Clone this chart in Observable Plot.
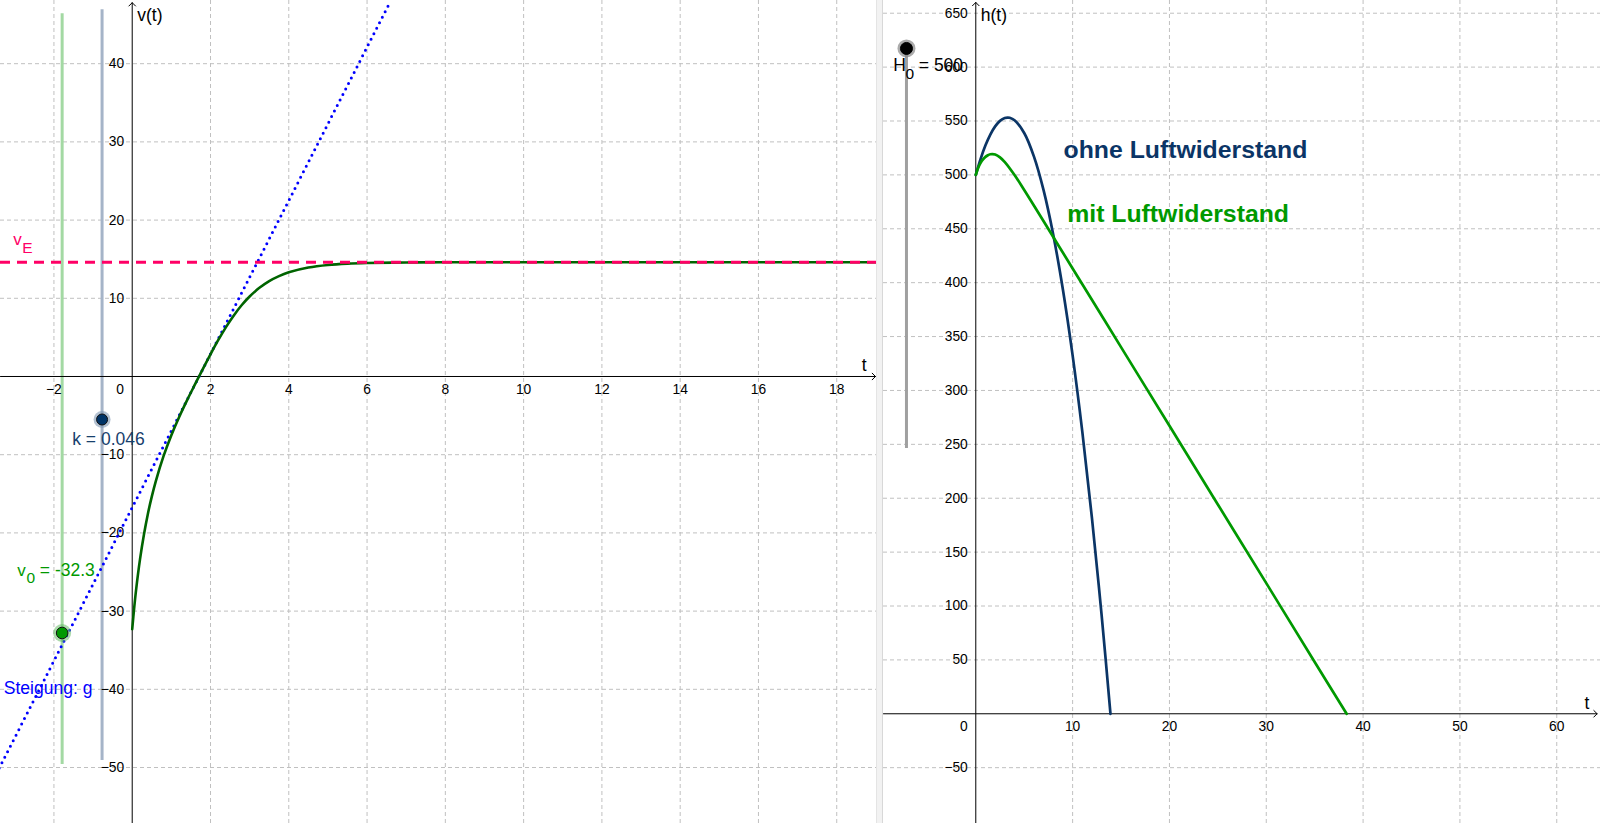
<!DOCTYPE html>
<html><head><meta charset="utf-8">
<script src="https://cdn.jsdelivr.net/npm/d3@7"></script>
<script src="https://cdn.jsdelivr.net/npm/@observablehq/plot@0.6"></script>
<style>
html,body{margin:0;padding:0;background:#fff;overflow:hidden;}
#root{position:relative;width:1600px;height:823px;font-family:"Liberation Sans",Arial,sans-serif;}
#left{position:absolute;left:0;top:0;}
#right{position:absolute;left:883px;top:0;}
#divider{position:absolute;left:876px;top:0;width:5px;height:823px;background:#f2f2f2;border-left:1px solid #e4e4e4;border-right:1px solid #d8d8d8;}
</style></head><body>
<div id="root"><div id="left"></div><div id="divider"></div><div id="right"></div></div>
<script>
// ---------- data: left panel v(t) ----------
const leftTDomain = [-3.365, 19.016];
const leftVDomain = [-57.16, 48.08];
const leftGridT = [-2, 2, 4, 6, 8, 10, 12, 14, 16, 18];
const leftGridV = [-50, -40, -30, -20, -10, 10, 20, 30, 40];
const leftTickT = [-2, 2, 4, 6, 8, 10, 12, 14, 16, 18];
const leftTickV = [-50, -40, -30, -20, -10, 10, 20, 30, 40];
const leftAxisT = [-3.365, 18.99];
const leftAxisV = [-57.16, 47.8];

const tV = [0, 0.05, 0.1, 0.2, 0.3, 0.4, 0.5, 0.6, 0.8, 1.0, 1.2, 1.4, 1.6, 1.7065, 1.8, 2.0, 2.2, 2.4, 2.6, 2.8, 3.0, 3.25, 3.5, 3.75, 4.0, 4.5, 5.0, 5.5, 6.0, 7.0, 8.0, 10, 12, 14, 16, 18, 19.1];
const vV = [-32.3, -29.62, -27.25, -23.36, -20.21, -17.57, -15.36, -13.43, -10.19, -7.50, -5.17, -3.05, -1.05, 0, 0.92, 2.84, 4.67, 6.35, 7.84, 9.14, 10.23, 11.34, 12.20, 12.84, 13.32, 13.93, 14.26, 14.43, 14.51, 14.58, 14.60, 14.60, 14.60, 14.60, 14.60, 14.60, 14.60];
const vE = 14.6;
const tangentT = [-3.4, 6.6];
const tangentV = [-50.1, 48.0];

// sliders (left): v0 and k
const v0 = -32.3;
const k = 0.046;
const sliderV0 = {t: -1.79, lo: -49.6, hi: 46.4, value: -32.8};
const sliderK = {t: -0.77, lo: -49.1, hi: 46.9, value: -5.5};

// ---------- data: right panel h(t) ----------
const rightTDomain = [-9.532, 64.52];
const rightHDomain = [-101.8, 661.8];
const rightGridT = [10, 20, 30, 40, 50, 60];
const rightGridH = [-50, 50, 100, 150, 200, 250, 300, 350, 400, 450, 500, 550, 600, 650];
const rightTickT = [10, 20, 30, 40, 50, 60];
const rightTickH = [-50, 50, 100, 150, 200, 250, 300, 350, 400, 450, 500, 550, 600, 650];
const rightAxisT = [-9.532, 64.17];
const rightAxisH = [-101.8, 660];

const tOhne = [0, 0.5, 1, 1.5, 2, 2.5, 3, 3.29, 3.5, 4, 5, 6, 7, 8, 9, 10, 11, 12, 13, 13.91];
const hOhne = [500, 514.9, 527.4, 537.4, 545.0, 550.1, 552.8, 553.2, 553.0, 550.7, 538.9, 517.2, 485.8, 444.5, 393.4, 332.5, 261.8, 181.3, 91.0, 0];
const tMit = [0, 0.25, 0.5, 0.75, 1.0, 1.25, 1.5, 1.71, 2.0, 2.5, 3.0, 4.0, 5.0, 6.0, 8.0, 10, 15, 20, 25, 30, 35, 38.3];
const hMit = [500, 506.6, 511.2, 514.4, 516.7, 518.2, 519.1, 519.3, 518.9, 516.3, 511.9, 499.9, 486.0, 471.6, 442.4, 413.2, 340.2, 267.2, 194.2, 121.2, 48.1, 0];
const H0 = 500;
const sliderH0 = {t: -7.16, lo: 246.2, hi: 617.3, value: 617.3};

// ---------- helpers ----------
const FONT = "Liberation Sans, Arial, sans-serif";
const fmt = d => d < 0 ? "\u2212" + Math.abs(d) : String(d);
const GRID = {stroke: "#c0c0c0", strokeOpacity: 1, strokeWidth: 1, strokeDasharray: "4,3"};
const zipT = (ts, vs) => ts.map((t, i) => ({t, v: vs[i]}));
const txt = (s, o) => Plot.text([s], {text: d => d, fontFamily: FONT, ...o});

// ---------- left plot ----------
const vData = zipT(tV, vV);
const tangent = zipT(tangentT, tangentV);

const left = Plot.plot({
  width: 876, height: 823, margin: 0,
  x: {domain: leftTDomain, axis: null},
  y: {domain: leftVDomain, axis: null},
  style: {background: "transparent", fontFamily: FONT, overflow: "visible"},
  marks: [
    Plot.gridX(leftGridT, GRID),
    Plot.gridY(leftGridV, GRID),
    // slider bars
    Plot.ruleX([sliderV0], {x: "t", y1: "lo", y2: "hi", stroke: "#a3d9a3", strokeWidth: 3}),
    Plot.ruleX([sliderK], {x: "t", y1: "lo", y2: "hi", stroke: "#a5b4c8", strokeWidth: 3}),
    // axes
    Plot.arrow([{x1: leftAxisT[0], y1: 0, x2: leftAxisT[1], y2: 0}], {x1: "x1", y1: "y1", x2: "x2", y2: "y2", stroke: "black", strokeWidth: 1, headLength: 7, headAngle: 90}),
    Plot.arrow([{x1: 0, y1: leftAxisV[0], x2: 0, y2: leftAxisV[1]}], {x1: "x1", y1: "y1", x2: "x2", y2: "y2", stroke: "black", strokeWidth: 1, headLength: 7, headAngle: 90}),
    // tick labels
    Plot.text(leftTickT, {x: d => d, y: 0, text: fmt, dy: 13, fontSize: 13.8, fill: "black", fontFamily: FONT}),
    Plot.text(leftTickV, {x: 0, y: d => d, text: fmt, dx: -8, textAnchor: "end", fontSize: 13.8, fill: "black", fontFamily: FONT}),
    Plot.text([0], {x: 0, y: 0, text: fmt, dx: -12, dy: 13, fontSize: 13.8, fill: "black", fontFamily: FONT}),
    // tangent line (slope g)
    Plot.line(tangent, {x: "t", y: "v", stroke: "#0000ff", strokeWidth: 3, strokeDasharray: "0,6.2", strokeLinecap: "round", clip: true}),
    // v(t)
    Plot.line(vData, {x: "t", y: "v", stroke: "#006400", strokeWidth: 2.6, curve: "catmull-rom", clip: true}),
    // terminal velocity
    Plot.ruleY([vE], {stroke: "#ff0066", strokeWidth: 3, strokeDasharray: "10,7"}),
    // slider points
    Plot.dot([sliderV0], {x: "t", y: "value", r: 9, fill: "#66bb66", fillOpacity: 0.55, stroke: "none"}),
    Plot.dot([sliderV0], {x: "t", y: "value", r: 5.8, fill: "#009900", stroke: "#111", strokeWidth: 1}),
    Plot.dot([sliderK], {x: "t", y: "value", r: 8.5, fill: "#8097b3", fillOpacity: 0.6, stroke: "none"}),
    Plot.dot([sliderK], {x: "t", y: "value", r: 5.5, fill: "#003366", stroke: "#111", strokeWidth: 1}),
    // labels
    txt("v(t)", {x: 0, y: 46.2, dx: 5, textAnchor: "start", fontSize: 17.5, fill: "black"}),
    txt("t", {x: 18.7, y: 1.4, fontSize: 17.5, fill: "black"}),
    txt("v", {x: -3.04, y: 17.5, textAnchor: "start", fontSize: 17, fill: "#ff0066"}),
    txt("E", {x: -3.04, y: 17.5, dx: 9, dy: 8, textAnchor: "start", fontSize: 15.5, fill: "#ff0066"}),
    txt("k = " + k, {x: -1.533, y: -8.06, textAnchor: "start", fontSize: 17.5, fill: "#17406d"}),
    txt("v", {x: -2.938, y: -24.8, textAnchor: "start", fontSize: 17, fill: "#009900"}),
    txt("0", {x: -2.938, y: -24.8, dx: 9.3, dy: 8, textAnchor: "start", fontSize: 15.5, fill: "#009900"}),
    txt("= " + v0, {x: -2.938, y: -24.8, dx: 22.6, textAnchor: "start", fontSize: 17.5, fill: "#009900"}),
    txt("Steigung: g", {x: -3.28, y: -39.9, textAnchor: "start", fontSize: 17.5, fill: "#0000ff"})
  ]
});
document.getElementById("left").appendChild(left);

// ---------- right plot ----------
const ohne = zipT(tOhne, hOhne);
const mit = zipT(tMit, hMit);

const right = Plot.plot({
  width: 717, height: 823, margin: 0,
  x: {domain: rightTDomain, axis: null},
  y: {domain: rightHDomain, axis: null},
  style: {background: "transparent", fontFamily: FONT, overflow: "visible"},
  marks: [
    Plot.gridX(rightGridT, GRID),
    Plot.gridY(rightGridH, GRID),
    Plot.ruleX([sliderH0], {x: "t", y1: "lo", y2: "hi", stroke: "#a0a0a0", strokeWidth: 3}),
    Plot.arrow([{x1: rightAxisT[0], y1: 0, x2: rightAxisT[1], y2: 0}], {x1: "x1", y1: "y1", x2: "x2", y2: "y2", stroke: "black", strokeWidth: 1, headLength: 7, headAngle: 90}),
    Plot.arrow([{x1: 0, y1: rightAxisH[0], x2: 0, y2: rightAxisH[1]}], {x1: "x1", y1: "y1", x2: "x2", y2: "y2", stroke: "black", strokeWidth: 1, headLength: 7, headAngle: 90}),
    Plot.text(rightTickT, {x: d => d, y: 0, text: fmt, dy: 13, fontSize: 13.8, fill: "black", fontFamily: FONT}),
    Plot.text(rightTickH, {x: 0, y: d => d, text: fmt, dx: -8, textAnchor: "end", fontSize: 13.8, fill: "black", fontFamily: FONT}),
    Plot.text([0], {x: 0, y: 0, text: fmt, dx: -12, dy: 13, fontSize: 13.8, fill: "black", fontFamily: FONT}),
    Plot.line(ohne, {x: "t", y: "v", stroke: "#0b3566", strokeWidth: 2.7, curve: "catmull-rom", clip: true}),
    Plot.line(mit, {x: "t", y: "v", stroke: "#009900", strokeWidth: 2.7, curve: "catmull-rom", clip: true}),
    Plot.dot([sliderH0], {x: "t", y: "value", r: 9, fill: "#888", fillOpacity: 0.7, stroke: "none"}),
    Plot.dot([sliderH0], {x: "t", y: "value", r: 6, fill: "#000", stroke: "#000", strokeWidth: 1}),
    txt("h(t)", {x: 0, y: 648.4, dx: 5, textAnchor: "start", fontSize: 17.5, fill: "black"}),
    txt("t", {x: 63.12, y: 9.6, fontSize: 17.5, fill: "black"}),
    txt("H", {x: -8.53, y: 601.5, textAnchor: "start", fontSize: 17.5, fill: "black"}),
    txt("0", {x: -8.53, y: 601.5, dx: 12.3, dy: 9, textAnchor: "start", fontSize: 15.5, fill: "black"}),
    txt("= " + H0, {x: -8.53, y: 601.5, dx: 25.6, textAnchor: "start", fontSize: 17.5, fill: "black"}),
    txt("ohne Luftwiderstand", {x: 9.06, y: 516.1, textAnchor: "start", lineAnchor: "bottom", fontSize: 24.8, fontWeight: "bold", fill: "#0b3566"}),
    txt("mit Luftwiderstand", {x: 9.44, y: 456.1, textAnchor: "start", lineAnchor: "bottom", fontSize: 24.8, fontWeight: "bold", fill: "#009900"})
  ]
});
document.getElementById("right").appendChild(right);
</script>
</body></html>
